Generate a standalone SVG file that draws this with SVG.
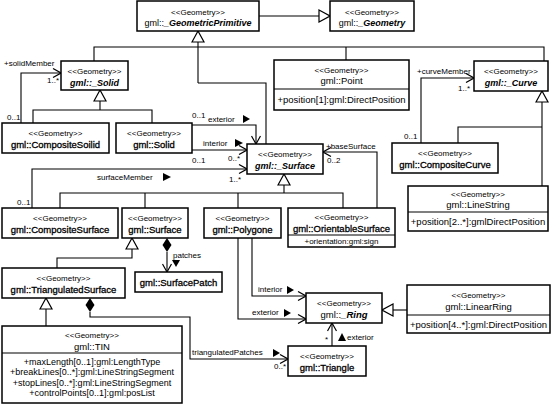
<svg xmlns="http://www.w3.org/2000/svg" width="551" height="404" viewBox="0 0 551 404">
<style>
text{font-family:"Liberation Sans",Arial,sans-serif;fill:#000}
.box{fill:#fff;stroke:#000;stroke-width:1.5}
.dv{stroke:#000;stroke-width:1.2}
.st{font-size:8px;text-anchor:middle}
.nm{font-size:9.5px;text-anchor:middle}
.ab{font-size:9px}
.b{stroke:#000;stroke-width:0.3}
.bi{font-weight:bold;font-style:italic}
.at{font-size:9.5px;text-anchor:middle}
.ta{font-size:9px}
.lb{font-size:8px}
.ln{fill:none;stroke:#000;stroke-width:1.1}
.op{marker-end:url(#open)}
.gn{marker-end:url(#gen)}
.fl{fill:#000}
</style>
<defs>
<marker id="open" viewBox="0 0 10 10" refX="9" refY="5" markerWidth="10" markerHeight="10" markerUnits="userSpaceOnUse" orient="auto">
<path d="M1,0.5 L9,5 L1,9.5" fill="none" stroke="#000" stroke-width="1.2"/>
</marker>
<marker id="gen" viewBox="0 0 13 14" refX="12" refY="7" markerWidth="13" markerHeight="14" markerUnits="userSpaceOnUse" orient="auto">
<path d="M1,1 L12,7 L1,13 Z" fill="#fff" stroke="#000" stroke-width="1.2"/>
</marker>
</defs>

<g id="connectors">
<!-- generalizations -->
<path class="ln gn" d="M259,16 H330"/>
<path class="ln" d="M94,61 V47 H544 V61 M346,47 V60 M198,83 H266 V144"/>
<path class="ln gn" d="M198,83 V31"/>
<path class="ln" d="M33,123 V110 H152 V123"/>
<path class="ln gn" d="M100,110 V90"/>
<path class="ln" d="M60,208 V193 H343 V208 M145,193 V208 M238,193 V208"/>
<path class="ln gn" d="M284,193 V174"/>
<path class="ln gn" d="M542,186 V91"/>
<path class="ln" d="M458,143 V127 H542"/>
<path class="ln gn" d="M57,268 V258 H132 V238"/>
<path class="ln gn" d="M46,326 V298"/>
<path class="ln gn" d="M407,310 H382"/>
<!-- associations -->
<path class="ln op" d="M21,123 V73 H61"/>
<path class="ln op" d="M192,125 H256 V144"/>
<path class="ln op" d="M192,150 H247"/>
<path class="ln op" d="M32,208 V169 H247"/>
<path class="ln op" d="M377,208 V152 H323"/>
<path class="ln op" d="M421,143 V78 H474"/>
<path class="ln op" d="M167,252 V272"/>
<polygon class="fl" points="167,238 171.5,245 167,252 162.5,245"/>
<path class="ln op" d="M90,312 V317 H190 V359 H288"/>
<polygon class="fl" points="90,298 94.5,305 90,312 85.5,305"/>
<path class="ln op" d="M252,238 V296 H306"/>
<path class="ln op" d="M238,238 V319 H306"/>
<path class="ln op" d="M332,346 V323"/>
<!-- labels -->
<text class="lb" x="4" y="66">+solidMember</text>
<text class="lb" x="47" y="83">1..*</text>
<text class="lb" x="7" y="120">0..1</text>
<text class="lb" x="192" y="118">0..1</text>
<text class="lb" x="208" y="122">exterior</text>
<polygon class="fl" points="243,115 250,119 243,123"/>
<text class="lb" x="203" y="146">interior</text>
<polygon class="fl" points="235,139 243,143 235,147"/>
<text class="lb" x="192" y="163">0..1</text>
<text class="lb" x="228" y="161">0..*</text>
<text class="lb" x="97" y="180">surfaceMember</text>
<polygon class="fl" points="163,173 171,177 163,181"/>
<text class="lb" x="229" y="182">1..*</text>
<text class="lb" x="17" y="205">0..1</text>
<text class="lb" x="326" y="149">+baseSurface</text>
<text class="lb" x="327" y="163">0..2</text>
<text class="lb" x="417" y="74">+curveMember</text>
<text class="lb" x="458" y="91">1..*</text>
<text class="lb" x="404" y="139">0..1</text>
<text class="lb" x="173" y="258">patches</text>
<polygon class="fl" points="172,260 180,260 176,267"/>
<text class="lb" x="192" y="355">triangulatedPatches</text>
<polygon class="fl" points="273,349 280,353 273,357"/>
<text class="lb" x="274" y="369">0..*</text>
<text class="lb" x="258" y="292">interior</text>
<polygon class="fl" points="287,286 294,290 287,294"/>
<text class="lb" x="252" y="315">exterior</text>
<polygon class="fl" points="284,309 291,313 284,317"/>
<text class="lb" x="325" y="342">*</text>
<polygon class="fl" points="338,341 342,333 346,341"/>
<text class="lb" x="347" y="340">exterior</text>
</g>

<g id="GeometricPrimitive">
<rect class="box" x="137" y="1" width="122" height="30"/>
<text class="st" x="198" y="14.5">&lt;&lt;Geometry&gt;&gt;</text>
<text class="nm ab" x="198" y="26">gml::<tspan class="bi">_GeometricPrimitive</tspan></text>
</g>
<g id="Geometry">
<rect class="box" x="330" y="1" width="84" height="30"/>
<text class="st" x="372" y="14.5">&lt;&lt;Geometry&gt;&gt;</text>
<text class="nm ab" x="372" y="26">gml::<tspan class="bi">_Geometry</tspan></text>
</g>
<g id="Solid_abstract">
<rect class="box" x="61" y="61" width="67" height="29"/>
<text class="st" x="94.5" y="74">&lt;&lt;Geometry&gt;&gt;</text>
<text class="nm ab bi" x="94.5" y="85.5">gml::_Solid</text>
</g>
<g id="Point">
<rect class="box" x="274" y="60" width="135" height="50"/>
<line class="dv" x1="274" y1="89" x2="409" y2="89"/>
<text class="st" x="341.5" y="73">&lt;&lt;Geometry&gt;&gt;</text>
<text class="nm" x="341.5" y="84">gml::Point</text>
<text class="at" x="341.5" y="103">+position[1]:gml:DirectPosition</text>
</g>
<g id="Curve_abstract">
<rect class="box" x="474" y="61" width="74" height="30"/>
<text class="st" x="511" y="74">&lt;&lt;Geometry&gt;&gt;</text>
<text class="nm ab bi" x="511" y="85.5">gml::_Curve</text>
</g>
<g id="CompositeSoilid">
<rect class="box" x="2" y="123" width="107" height="30"/>
<text class="st" x="55.5" y="136">&lt;&lt;Geometry&gt;&gt;</text>
<text class="nm b" x="55.5" y="148">gml::CompositeSoilid</text>
</g>
<g id="Solid">
<rect class="box" x="116" y="123" width="76" height="30"/>
<text class="st" x="154" y="136">&lt;&lt;Geometry&gt;&gt;</text>
<text class="nm b" x="154" y="148">gml::Solid</text>
</g>
<g id="Surface_abstract">
<rect class="box" x="247" y="144" width="76" height="30"/>
<text class="st" x="285" y="157">&lt;&lt;Geometry&gt;&gt;</text>
<text class="nm ab bi" x="285" y="169">gml::_Surface</text>
</g>
<g id="CompositeCurve">
<rect class="box" x="392" y="143" width="106" height="30"/>
<text class="st" x="445" y="156">&lt;&lt;Geometry&gt;&gt;</text>
<text class="nm b" x="445" y="168">gml::CompositeCurve</text>
</g>
<g id="LineString">
<rect class="box" x="408" y="186" width="140" height="45"/>
<line class="dv" x1="408" y1="212" x2="548" y2="212"/>
<text class="st" x="478" y="197">&lt;&lt;Geometry&gt;&gt;</text>
<text class="nm" x="478" y="208">gml::LineString</text>
<text class="at" x="478" y="225">+position[2..*]:gmlDirectPosition</text>
</g>
<g id="CompositeSurface">
<rect class="box" x="2" y="208" width="116" height="30"/>
<text class="st" x="60" y="221">&lt;&lt;Geometry&gt;&gt;</text>
<text class="nm b" x="60" y="233">gml::CompositeSurface</text>
</g>
<g id="Surface">
<rect class="box" x="122" y="208" width="66" height="30"/>
<text class="st" x="155" y="221">&lt;&lt;Geometry&gt;&gt;</text>
<text class="nm b" x="155" y="233">gml::Surface</text>
</g>
<g id="Polygone">
<rect class="box" x="204" y="208" width="77" height="30"/>
<text class="st" x="242.5" y="221">&lt;&lt;Geometry&gt;&gt;</text>
<text class="nm b" x="242.5" y="233">gml::Polygone</text>
</g>
<g id="OrientableSurface">
<rect class="box" x="288" y="208" width="107" height="39"/>
<line class="dv" x1="288" y1="235" x2="395" y2="235"/>
<text class="st" x="341.5" y="220">&lt;&lt;Geometry&gt;&gt;</text>
<text class="nm b" x="341.5" y="231.5">gml::OrientableSurface</text>
<text class="lb" x="341.5" y="244" text-anchor="middle">+orientation:gml:sign</text>
</g>
<g id="TriangulatedSurface">
<rect class="box" x="2" y="268" width="123" height="30"/>
<text class="st" x="63.5" y="281">&lt;&lt;Geometry&gt;&gt;</text>
<text class="nm b" x="63.5" y="293">gml::TriangulatedSurface</text>
</g>
<g id="SurfacePatch">
<rect class="box" x="135" y="272" width="87" height="20"/>
<text class="nm b" x="178.5" y="285.5">gml::SurfacePatch</text>
</g>
<g id="TIN">
<rect class="box" x="2" y="326" width="180" height="77"/>
<line class="dv" x1="2" y1="353" x2="182" y2="353"/>
<text class="st" x="92" y="338">&lt;&lt;Geometry&gt;&gt;</text>
<text class="nm" x="92" y="349.5">gml::TIN</text>
<text class="at ta" x="92" y="364.5">+maxLength[0..1]:gml:LengthType</text>
<text class="at ta" x="92" y="375">+breakLines[0..*]:gml:LineStringSegment</text>
<text class="at ta" x="92" y="385.5">+stopLines[0..*]:gml:LineStringSegment</text>
<text class="at ta" x="92" y="396">+controlPoints[0..1]:gml:posList</text>
</g>
<g id="Triangle">
<rect class="box" x="288" y="346" width="78" height="30"/>
<text class="st" x="327" y="358.5">&lt;&lt;Geometry&gt;&gt;</text>
<text class="nm b" x="327" y="370.5">gml::Triangle</text>
</g>
<g id="Ring">
<rect class="box" x="306" y="293" width="76" height="30"/>
<text class="st" x="344" y="306">&lt;&lt;Geometry&gt;&gt;</text>
<text class="nm" x="344" y="318">gml::<tspan class="bi">_Ring</tspan></text>
</g>
<g id="LinearRing">
<rect class="box" x="407" y="285" width="143" height="48"/>
<line class="dv" x1="407" y1="315" x2="550" y2="315"/>
<text class="st" x="478.5" y="298">&lt;&lt;Geometry&gt;&gt;</text>
<text class="nm" x="478.5" y="310">gml::LinearRing</text>
<text class="at" x="478.5" y="327.5">+position[4..*]:gml:DirectPosition</text>
</g>
</svg>
